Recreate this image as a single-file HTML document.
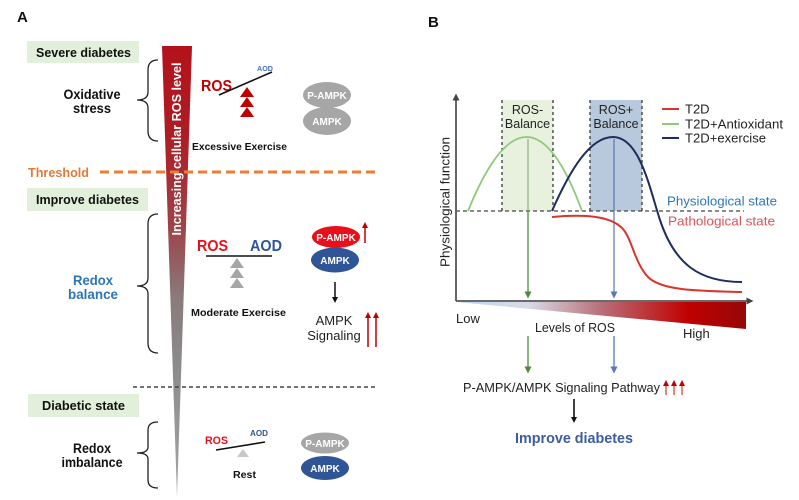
<!DOCTYPE html>
<html>
<head>
<meta charset="utf-8">
<style>
html,body{margin:0;padding:0;background:#fff;}
svg{display:block;}
text{font-family:"Liberation Sans",Arial,sans-serif;}
</style>
</head>
<body>
<svg width="799" height="500" viewBox="0 0 799 500" xmlns="http://www.w3.org/2000/svg">
<defs>
  <linearGradient id="wedge" x1="0" y1="46" x2="0" y2="495" gradientUnits="userSpaceOnUse">
    <stop offset="0" stop-color="#b3121b"/>
    <stop offset="0.2" stop-color="#ad1d24"/>
    <stop offset="0.4" stop-color="#9e4248"/>
    <stop offset="0.56" stop-color="#8a7a7b"/>
    <stop offset="0.7" stop-color="#8a8a8a"/>
    <stop offset="1" stop-color="#a5a5a5"/>
  </linearGradient>
  <linearGradient id="ros" x1="456" y1="0" x2="746" y2="0" gradientUnits="userSpaceOnUse">
    <stop offset="0" stop-color="#bcd6f0"/>
    <stop offset="0.25" stop-color="#d8dbe6"/>
    <stop offset="0.5" stop-color="#b8707a"/>
    <stop offset="0.8" stop-color="#c00000"/>
    <stop offset="1" stop-color="#960808"/>
  </linearGradient>
  <marker id="ahK" markerWidth="6" markerHeight="6" refX="3" refY="3" orient="auto" markerUnits="userSpaceOnUse">
    <path d="M0,0 L6,3 L0,6 z" fill="#111"/>
  </marker>
  <marker id="ahR" markerWidth="6" markerHeight="6" refX="3" refY="3" orient="auto" markerUnits="userSpaceOnUse">
    <path d="M0,0 L6,3 L0,6 z" fill="#c00000"/>
  </marker>
  <marker id="ahG" markerWidth="7" markerHeight="7" refX="3.5" refY="3.5" orient="auto" markerUnits="userSpaceOnUse">
    <path d="M0,0 L7,3.5 L0,7 z" fill="#4f8a3c"/>
  </marker>
  <marker id="ahB" markerWidth="7" markerHeight="7" refX="3.5" refY="3.5" orient="auto" markerUnits="userSpaceOnUse">
    <path d="M0,0 L7,3.5 L0,7 z" fill="#5677b8"/>
  </marker>
  <marker id="ahA" markerWidth="7" markerHeight="7" refX="3.5" refY="3.5" orient="auto" markerUnits="userSpaceOnUse">
    <path d="M0,0 L7,3.5 L0,7 z" fill="#444"/>
  </marker>
</defs>

<!-- ================= PANEL A ================= -->
<text x="17" y="22" font-size="15" font-weight="bold" fill="#111">A</text>

<!-- green label boxes -->
<rect x="27" y="41" width="112" height="22" fill="#e2efda"/>
<text x="36" y="57" font-size="12.5" font-weight="bold" fill="#111" textLength="95" lengthAdjust="spacingAndGlyphs">Severe diabetes</text>

<rect x="27" y="188" width="121" height="23" fill="#e2efda"/>
<text x="36" y="204" font-size="12.5" font-weight="bold" fill="#111" textLength="103" lengthAdjust="spacingAndGlyphs">Improve diabetes</text>

<rect x="28" y="394" width="111" height="23" fill="#e2efda"/>
<text x="42" y="410" font-size="12.5" font-weight="bold" fill="#111" textLength="83" lengthAdjust="spacingAndGlyphs">Diabetic state</text>

<!-- wedge -->
<polygon points="162,46 192,46 177,497" fill="url(#wedge)"/>
<text x="0" y="0" font-size="12.5" font-weight="bold" fill="#fff" text-anchor="middle" dominant-baseline="central" transform="translate(177,149) rotate(-90)" textLength="173" lengthAdjust="spacingAndGlyphs">Increasing cellular ROS level</text>

<!-- braces -->
<path d="M158,60 Q148,60 148,70 L148,92 Q148,100 137,100 Q148,100 148,108 L148,131 Q148,141 158,141" fill="none" stroke="#222" stroke-width="1.3"/>
<path d="M158,214 Q148,214 148,224 L148,278 Q148,286 137,286 Q148,286 148,294 L148,343 Q148,353 158,353" fill="none" stroke="#222" stroke-width="1.3"/>
<path d="M158,422 Q148,422 148,430 L148,447 Q148,453 137,453 Q148,453 148,459 L148,480 Q148,488 158,488" fill="none" stroke="#222" stroke-width="1.3"/>

<!-- side labels -->
<text x="92" y="99" font-size="13.5" font-weight="bold" fill="#111" text-anchor="middle" textLength="57" lengthAdjust="spacingAndGlyphs">Oxidative</text>
<text x="92" y="113" font-size="13.5" font-weight="bold" fill="#111" text-anchor="middle" textLength="38" lengthAdjust="spacingAndGlyphs">stress</text>

<text x="93" y="285" font-size="14" font-weight="bold" fill="#2e75b6" text-anchor="middle" textLength="40" lengthAdjust="spacingAndGlyphs">Redox</text>
<text x="93" y="299" font-size="14" font-weight="bold" fill="#2e75b6" text-anchor="middle" textLength="50" lengthAdjust="spacingAndGlyphs">balance</text>

<text x="92" y="453" font-size="13.5" font-weight="bold" fill="#111" text-anchor="middle" textLength="38" lengthAdjust="spacingAndGlyphs">Redox</text>
<text x="92" y="467" font-size="13.5" font-weight="bold" fill="#111" text-anchor="middle" textLength="61" lengthAdjust="spacingAndGlyphs">imbalance</text>

<!-- threshold -->
<text x="28" y="177" font-size="13" font-weight="bold" fill="#e07b39" textLength="61" lengthAdjust="spacingAndGlyphs">Threshold</text>
<line x1="100" y1="172" x2="378" y2="172" stroke="#ed7d31" stroke-width="3" stroke-dasharray="9,5"/>

<!-- black dashed line -->
<line x1="133" y1="387" x2="376" y2="387" stroke="#444" stroke-width="1.5" stroke-dasharray="4,3"/>

<!-- Excessive exercise block -->
<text x="201" y="91" font-size="16" font-weight="bold" fill="#c00000" textLength="31" lengthAdjust="spacingAndGlyphs">ROS</text>
<text x="257" y="71" font-size="7.5" font-weight="bold" fill="#4472c4" textLength="16" lengthAdjust="spacingAndGlyphs">AOD</text>
<line x1="219" y1="95" x2="272" y2="72" stroke="#111" stroke-width="1.6"/>
<polygon points="247,87 240,97 254,97" fill="#c00000"/>
<polygon points="247,97 240,107 254,107" fill="#c00000"/>
<polygon points="247,107 240,117 254,117" fill="#c00000"/>
<ellipse cx="327" cy="121" rx="24" ry="14" fill="#a6a6a6"/>
<ellipse cx="327" cy="95" rx="24" ry="13" fill="#a6a6a6"/>
<text x="327" y="99" font-size="10" font-weight="bold" fill="#fff" text-anchor="middle">P-AMPK</text>
<text x="327" y="125" font-size="10" font-weight="bold" fill="#fff" text-anchor="middle">AMPK</text>
<text x="192" y="150" font-size="10.5" font-weight="bold" fill="#111" textLength="95" lengthAdjust="spacingAndGlyphs">Excessive Exercise</text>

<!-- Moderate exercise block -->
<text x="197" y="251" font-size="16" font-weight="bold" fill="#e8101a" textLength="31" lengthAdjust="spacingAndGlyphs">ROS</text>
<text x="250" y="251" font-size="16" font-weight="bold" fill="#2f5597" textLength="32" lengthAdjust="spacingAndGlyphs">AOD</text>
<line x1="206" y1="256" x2="272" y2="256" stroke="#111" stroke-width="1.6"/>
<polygon points="237,258 230,268 244,268" fill="#a6a6a6"/>
<polygon points="237,268 230,278 244,278" fill="#a6a6a6"/>
<polygon points="237,278 230,288 244,288" fill="#a6a6a6"/>
<text x="191" y="316" font-size="10.5" font-weight="bold" fill="#111" textLength="95" lengthAdjust="spacingAndGlyphs">Moderate Exercise</text>

<ellipse cx="335" cy="260" rx="24" ry="12.5" fill="#2f5597"/>
<ellipse cx="336" cy="237" rx="24" ry="11" fill="#e8101a"/>
<text x="336" y="241" font-size="10" font-weight="bold" fill="#fff" text-anchor="middle">P-AMPK</text>
<text x="335" y="264" font-size="10" font-weight="bold" fill="#fff" text-anchor="middle">AMPK</text>
<line x1="365" y1="243" x2="365" y2="225" stroke="#c00000" stroke-width="1.5" marker-end="url(#ahR)"/>
<line x1="335" y1="282" x2="335" y2="300" stroke="#111" stroke-width="1.5" marker-end="url(#ahK)"/>
<text x="334" y="325" font-size="13" fill="#222" text-anchor="middle">AMPK</text>
<text x="334" y="340" font-size="13" fill="#222" text-anchor="middle">Signaling</text>
<line x1="368" y1="347" x2="368" y2="315" stroke="#c00000" stroke-width="1.5" marker-end="url(#ahR)"/>
<line x1="376" y1="347" x2="376" y2="315" stroke="#c00000" stroke-width="1.5" marker-end="url(#ahR)"/>

<!-- Rest block -->
<text x="205" y="444" font-size="11" font-weight="bold" fill="#e8101a" textLength="23" lengthAdjust="spacingAndGlyphs">ROS</text>
<text x="250" y="436" font-size="8.5" font-weight="bold" fill="#2f5597" textLength="18" lengthAdjust="spacingAndGlyphs">AOD</text>
<polygon points="243,449 237,457 249,457" fill="#c8c8c8"/>
<line x1="216" y1="450" x2="265" y2="442" stroke="#111" stroke-width="1.6"/>
<text x="233" y="478" font-size="10.5" font-weight="bold" fill="#111" textLength="23" lengthAdjust="spacingAndGlyphs">Rest</text>

<ellipse cx="325" cy="468" rx="24" ry="12" fill="#2f5597"/>
<ellipse cx="325" cy="443" rx="24" ry="10.5" fill="#a6a6a6"/>
<text x="325" y="447" font-size="10" font-weight="bold" fill="#fff" text-anchor="middle">P-AMPK</text>
<text x="325" y="472" font-size="10" font-weight="bold" fill="#fff" text-anchor="middle">AMPK</text>

<!-- ================= PANEL B ================= -->
<text x="428" y="27" font-size="15" font-weight="bold" fill="#111">B</text>

<!-- boxes -->
<rect x="502" y="100" width="51" height="111" fill="#e8f0de"/>
<rect x="590" y="100" width="52" height="111" fill="#b9c9dd"/>
<line x1="502" y1="100" x2="502" y2="211" stroke="#444" stroke-width="1.4" stroke-dasharray="3,3"/>
<line x1="553" y1="100" x2="553" y2="211" stroke="#444" stroke-width="1.4" stroke-dasharray="3,3"/>
<line x1="590" y1="100" x2="590" y2="211" stroke="#444" stroke-width="1.4" stroke-dasharray="3,3"/>
<line x1="642" y1="100" x2="642" y2="211" stroke="#444" stroke-width="1.4" stroke-dasharray="3,3"/>
<text x="527.5" y="114" font-size="12.5" fill="#222" text-anchor="middle">ROS-</text>
<text x="527.5" y="128" font-size="12.5" fill="#222" text-anchor="middle">Balance</text>
<text x="616" y="114" font-size="12.5" fill="#222" text-anchor="middle">ROS+</text>
<text x="616" y="128" font-size="12.5" fill="#222" text-anchor="middle">Balance</text>

<!-- dashed horizontal -->
<line x1="456" y1="211" x2="744" y2="211" stroke="#444" stroke-width="1.3" stroke-dasharray="4,3"/>

<!-- vertical marker lines -->
<line x1="528" y1="139" x2="528" y2="211" stroke="#7aa86a" stroke-width="1"/>
<line x1="528" y1="211" x2="528" y2="295" stroke="#4f8a3c" stroke-width="1.3" marker-end="url(#ahG)"/>
<line x1="614" y1="139" x2="614" y2="295" stroke="#5677b8" stroke-width="1.2" marker-end="url(#ahB)"/>

<!-- curves -->
<path d="M468,211 Q528,63 582,211" fill="none" stroke="#8cc97a" stroke-width="1.8"/>
<path d="M552,217 C585,214 610,216 622,228 C632,238 634,262 648,277 C662,291 700,291 742,292" fill="none" stroke="#d9352b" stroke-width="2"/>
<path d="M552,211 C570,170 590,137 613,137 C640,137 650,190 660,220 C675,265 700,282 742,282" fill="none" stroke="#1f2d5c" stroke-width="2"/>

<!-- axes -->
<line x1="456" y1="301" x2="456" y2="97" stroke="#555" stroke-width="1.8" marker-end="url(#ahA)"/>
<line x1="456" y1="301" x2="750" y2="301" stroke="#555" stroke-width="1.8" marker-end="url(#ahA)"/>
<text x="0" y="0" font-size="13" fill="#222" text-anchor="middle" dominant-baseline="central" transform="translate(445,202) rotate(-90)" textLength="130" lengthAdjust="spacingAndGlyphs">Physiological function</text>

<!-- ROS gradient wedge -->
<polygon points="456,302 746,302 746,329" fill="url(#ros)"/>

<!-- legend -->
<line x1="662" y1="109" x2="679" y2="109" stroke="#d9352b" stroke-width="2"/>
<line x1="662" y1="124" x2="679" y2="124" stroke="#8cc97a" stroke-width="2"/>
<line x1="662" y1="138" x2="679" y2="138" stroke="#1f2d5c" stroke-width="2"/>
<text x="685" y="113.5" font-size="13" fill="#222">T2D</text>
<text x="685" y="128.5" font-size="13" fill="#222" textLength="98" lengthAdjust="spacingAndGlyphs">T2D+Antioxidant</text>
<text x="685" y="142.5" font-size="13" fill="#222" textLength="81" lengthAdjust="spacingAndGlyphs">T2D+exercise</text>

<text x="667" y="205.5" font-size="13" fill="#2e75b6" textLength="110" lengthAdjust="spacingAndGlyphs">Physiological state</text>
<text x="668" y="225.5" font-size="13" fill="#d9545a" textLength="107" lengthAdjust="spacingAndGlyphs">Pathological state</text>

<!-- x labels -->
<text x="456" y="323" font-size="13" fill="#222">Low</text>
<text x="535" y="332" font-size="13" fill="#222" textLength="80" lengthAdjust="spacingAndGlyphs">Levels of ROS</text>
<text x="683" y="338" font-size="13" fill="#222">High</text>

<!-- lower arrows -->
<line x1="528" y1="336" x2="528" y2="370" stroke="#4f8a3c" stroke-width="1.3" marker-end="url(#ahG)"/>
<line x1="614" y1="336" x2="614" y2="370" stroke="#5677b8" stroke-width="1.3" marker-end="url(#ahB)"/>

<text x="463" y="392" font-size="13" fill="#222" textLength="197" lengthAdjust="spacingAndGlyphs">P-AMPK/AMPK Signaling Pathway</text>
<line x1="666" y1="395" x2="666" y2="383" stroke="#d9352b" stroke-width="1.2" marker-end="url(#ahR)"/>
<line x1="674" y1="395" x2="674" y2="383" stroke="#d9352b" stroke-width="1.2" marker-end="url(#ahR)"/>
<line x1="682" y1="395" x2="682" y2="383" stroke="#d9352b" stroke-width="1.2" marker-end="url(#ahR)"/>

<line x1="574" y1="399" x2="574" y2="420" stroke="#111" stroke-width="1.6" marker-end="url(#ahK)"/>
<text x="515" y="443" font-size="15" font-weight="bold" fill="#3d5d9f" textLength="118" lengthAdjust="spacingAndGlyphs">Improve diabetes</text>
</svg>
</body>
</html>
